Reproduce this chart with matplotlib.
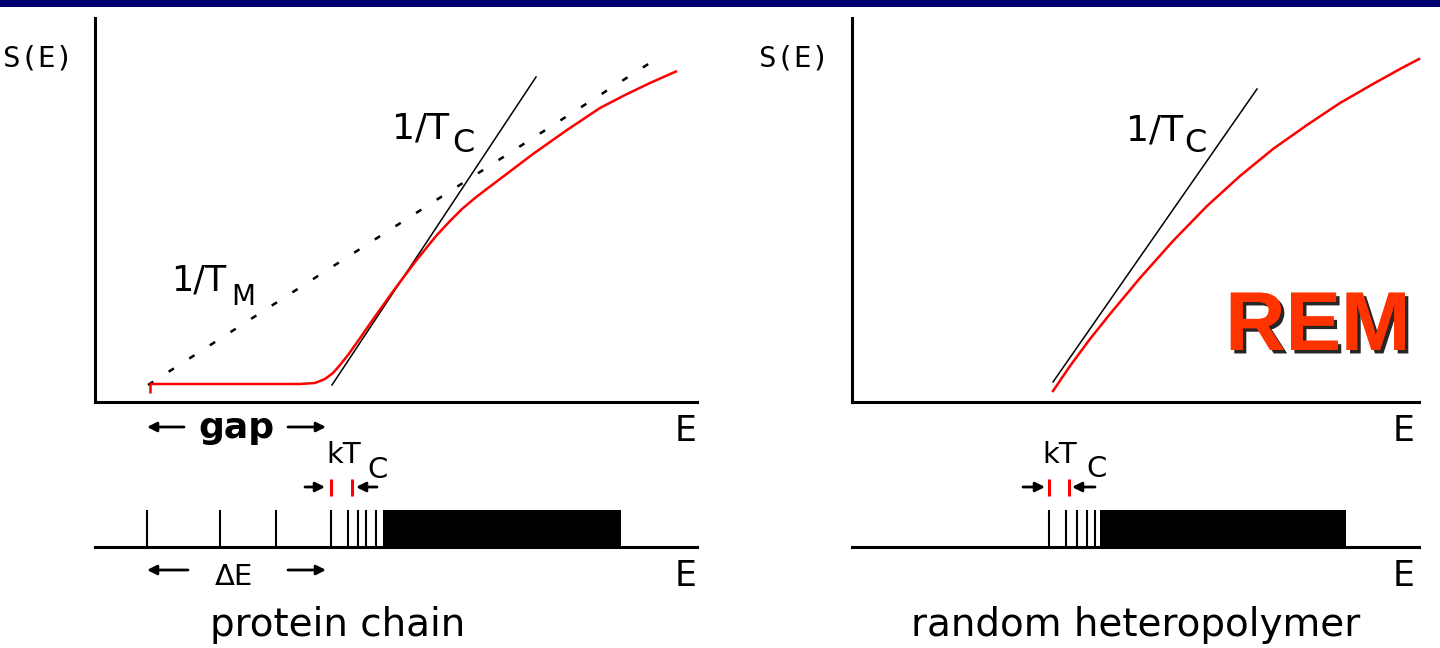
import matplotlib
matplotlib.use("Agg")
import matplotlib.pyplot as plt
import matplotlib.patheffects as pe

# ---- data (E and S in arbitrary units) ----
# protein chain: entropy curve S(E)
prot_E = [1.10, 4.10, 4.40, 4.60, 4.76, 4.90, 5.06, 5.26, 5.58, 5.98, 6.40, 6.82,
          7.10, 7.34, 7.60, 7.86, 8.10, 8.76, 9.44, 10.10, 10.60, 11.10, 11.64]
prot_S = [0.36, 0.36, 0.38, 0.46, 0.58, 0.74, 0.94, 1.22, 1.68, 2.24, 2.80, 3.32,
          3.62, 3.86, 4.08, 4.28, 4.46, 4.96, 5.44, 5.88, 6.14, 6.38, 6.62]
prot_tc_E = [4.74, 8.82]       # 1/Tc tangent
prot_tc_S = [0.34, 6.50]
prot_tm_E = [1.06, 11.16]      # 1/Tm line
prot_tm_S = [0.34, 6.82]

# random heteropolymer
rhp_E = [4.02, 4.36, 4.76, 5.16, 5.76, 6.42, 7.10, 7.76, 8.42, 9.10, 9.76, 10.42, 10.96, 11.34]
rhp_S = [0.22, 0.72, 1.26, 1.76, 2.48, 3.22, 3.92, 4.52, 5.06, 5.54, 5.98, 6.36, 6.66, 6.86]
rhp_tc_E = [4.02, 8.10]
rhp_tc_S = [0.40, 6.26]

# energy spectra: discrete levels + continuum block
prot_levels = [1.04, 2.50, 3.62, 4.72, 5.06, 5.26, 5.42, 5.62]
prot_block = (5.76, 10.52)
rhp_levels = [3.94, 4.28, 4.50, 4.70, 4.86]
rhp_block = (4.96, 9.88)

W, H = 1440, 648
fig = plt.figure(figsize=(W / 100, H / 100), dpi=100)
fig.patch.set_facecolor("white")


def rect(x0, y0, x1, y1):
    return [x0 / W, 1 - y1 / H, (x1 - x0) / W, (y1 - y0) / H]


SPW = 2.2


def top_axes(r, xmax):
    ax = fig.add_axes(r)
    ax.set_xlim(0, xmax)
    ax.set_ylim(0, 7.68)
    for s in ["top", "right"]:
        ax.spines[s].set_visible(False)
    for s in ["left", "bottom"]:
        ax.spines[s].set_linewidth(SPW)
    ax.set_xticks([])
    ax.set_yticks([])
    ax.patch.set_alpha(0)
    return ax


def spec_axes(r, xmax, levels, block):
    ax = fig.add_axes(r)
    ax.set_xlim(0, xmax)
    ax.set_ylim(0, 1)
    for s in ["top", "right", "left"]:
        ax.spines[s].set_visible(False)
    ax.spines["bottom"].set_linewidth(SPW)
    ax.set_xticks([])
    ax.set_yticks([])
    ax.patch.set_alpha(0)
    ax.vlines(levels, 0, 1, color="black", lw=1.5)
    ax.axvspan(block[0], block[1], ymin=0, ymax=1, color="black", lw=0)
    return ax


ax1 = top_axes(rect(95, 18, 697, 402), 12.04)
ax1.plot(prot_tm_E, prot_tm_S, color="black", lw=1.8, ls=(0, (2.5, 7.3)))
ax1.plot(prot_tc_E, prot_tc_S, color="black", lw=1.1)
ax1.plot(prot_E, prot_S, color="red", lw=1.8, solid_capstyle="butt")
ax1.vlines(prot_E[0], prot_S[0] - 0.18, prot_S[0] + 0.02, color="red", lw=1.8)

ax2 = top_axes(rect(852, 18, 1419, 402), 11.34)
ax2.plot(rhp_tc_E, rhp_tc_S, color="black", lw=1.1)
ax2.plot(rhp_E, rhp_S, color="red", lw=1.8, clip_on=False)

spec_axes(rect(95, 510, 697, 547), 12.04, prot_levels, prot_block)
spec_axes(rect(852, 510, 1419, 547), 11.34, rhp_levels, rhp_block)

# ---- overlay for labels / annotations (pixel coords, y down) ----
ov = fig.add_axes([0, 0, 1, 1])
ov.set_xlim(0, W)
ov.set_ylim(H, 0)
ov.axis("off")
ov.patch.set_alpha(0)

ov.add_patch(plt.Rectangle((0, 0), W, 7, color="#000070", lw=0))

FONT = "DejaVu Sans"


def txt(x, y, s, size, ha="left", family=FONT, **kw):
    ov.text(x, y, s, fontsize=size, ha=ha, va="baseline", family=family, **kw)


def arrow(x_tail, x_head, y, color="black"):
    ov.annotate("", xy=(x_head, y), xytext=(x_tail, y),
                arrowprops=dict(arrowstyle="-|>", lw=2, color=color,
                                mutation_scale=14, shrinkA=0, shrinkB=0))


def red_tick(x, y0, y1):
    ov.plot([x, x], [y0, y1], color="red", lw=2.2, solid_capstyle="butt")


# axis labels
txt(3, 66, "S(E)", 21, family="DejaVu Sans Mono")
txt(759, 66, "S(E)", 21, family="DejaVu Sans Mono")
for x in (697, 1414):
    txt(x, 441, "E", 25, ha="right")
    txt(x, 586, "E", 25, ha="right")

# slopes
txt(392, 138, "1/T", 26)
txt(452, 152, "C", 23)
txt(1126, 140, "1/T", 26)
txt(1184, 152, "C", 23)
txt(171, 291, "1/T", 25)
txt(231, 305, "M", 20)

# gap
txt(236, 438, "gap", 26, ha="center", weight="bold")
arrow(184, 147, 427)
arrow(288, 326, 427)

# kTc (protein)
txt(326, 463, "kT", 21)
txt(367, 478, "C", 21)
arrow(305, 325, 487)
red_tick(331, 479, 496)
red_tick(352, 479, 496)
arrow(377, 356, 487)

# kTc (REM)
txt(1042, 463, "kT", 21)
txt(1086, 477, "C", 21)
arrow(1023, 1045, 487)
red_tick(1049, 479, 496)
red_tick(1069, 479, 496)
arrow(1095, 1072, 487)

# delta E
txt(234, 585, "\u0394E", 21, ha="center")
arrow(188, 147, 570)
arrow(288, 326, 570)

txt(338, 636, "protein chain", 28, ha="center")
txt(1136, 636, "random heteropolymer", 28, ha="center")

ov.text(1318, 350, "REM", fontsize=60, ha="center", va="baseline",
        family="Liberation Sans", weight="bold", color="#FF3300",
        path_effects=[pe.withSimplePatchShadow(offset=(2.5, -2.5), shadow_rgbFace="black", alpha=0.85),
                      pe.Normal()])

fig.savefig("out.png", dpi=100)
